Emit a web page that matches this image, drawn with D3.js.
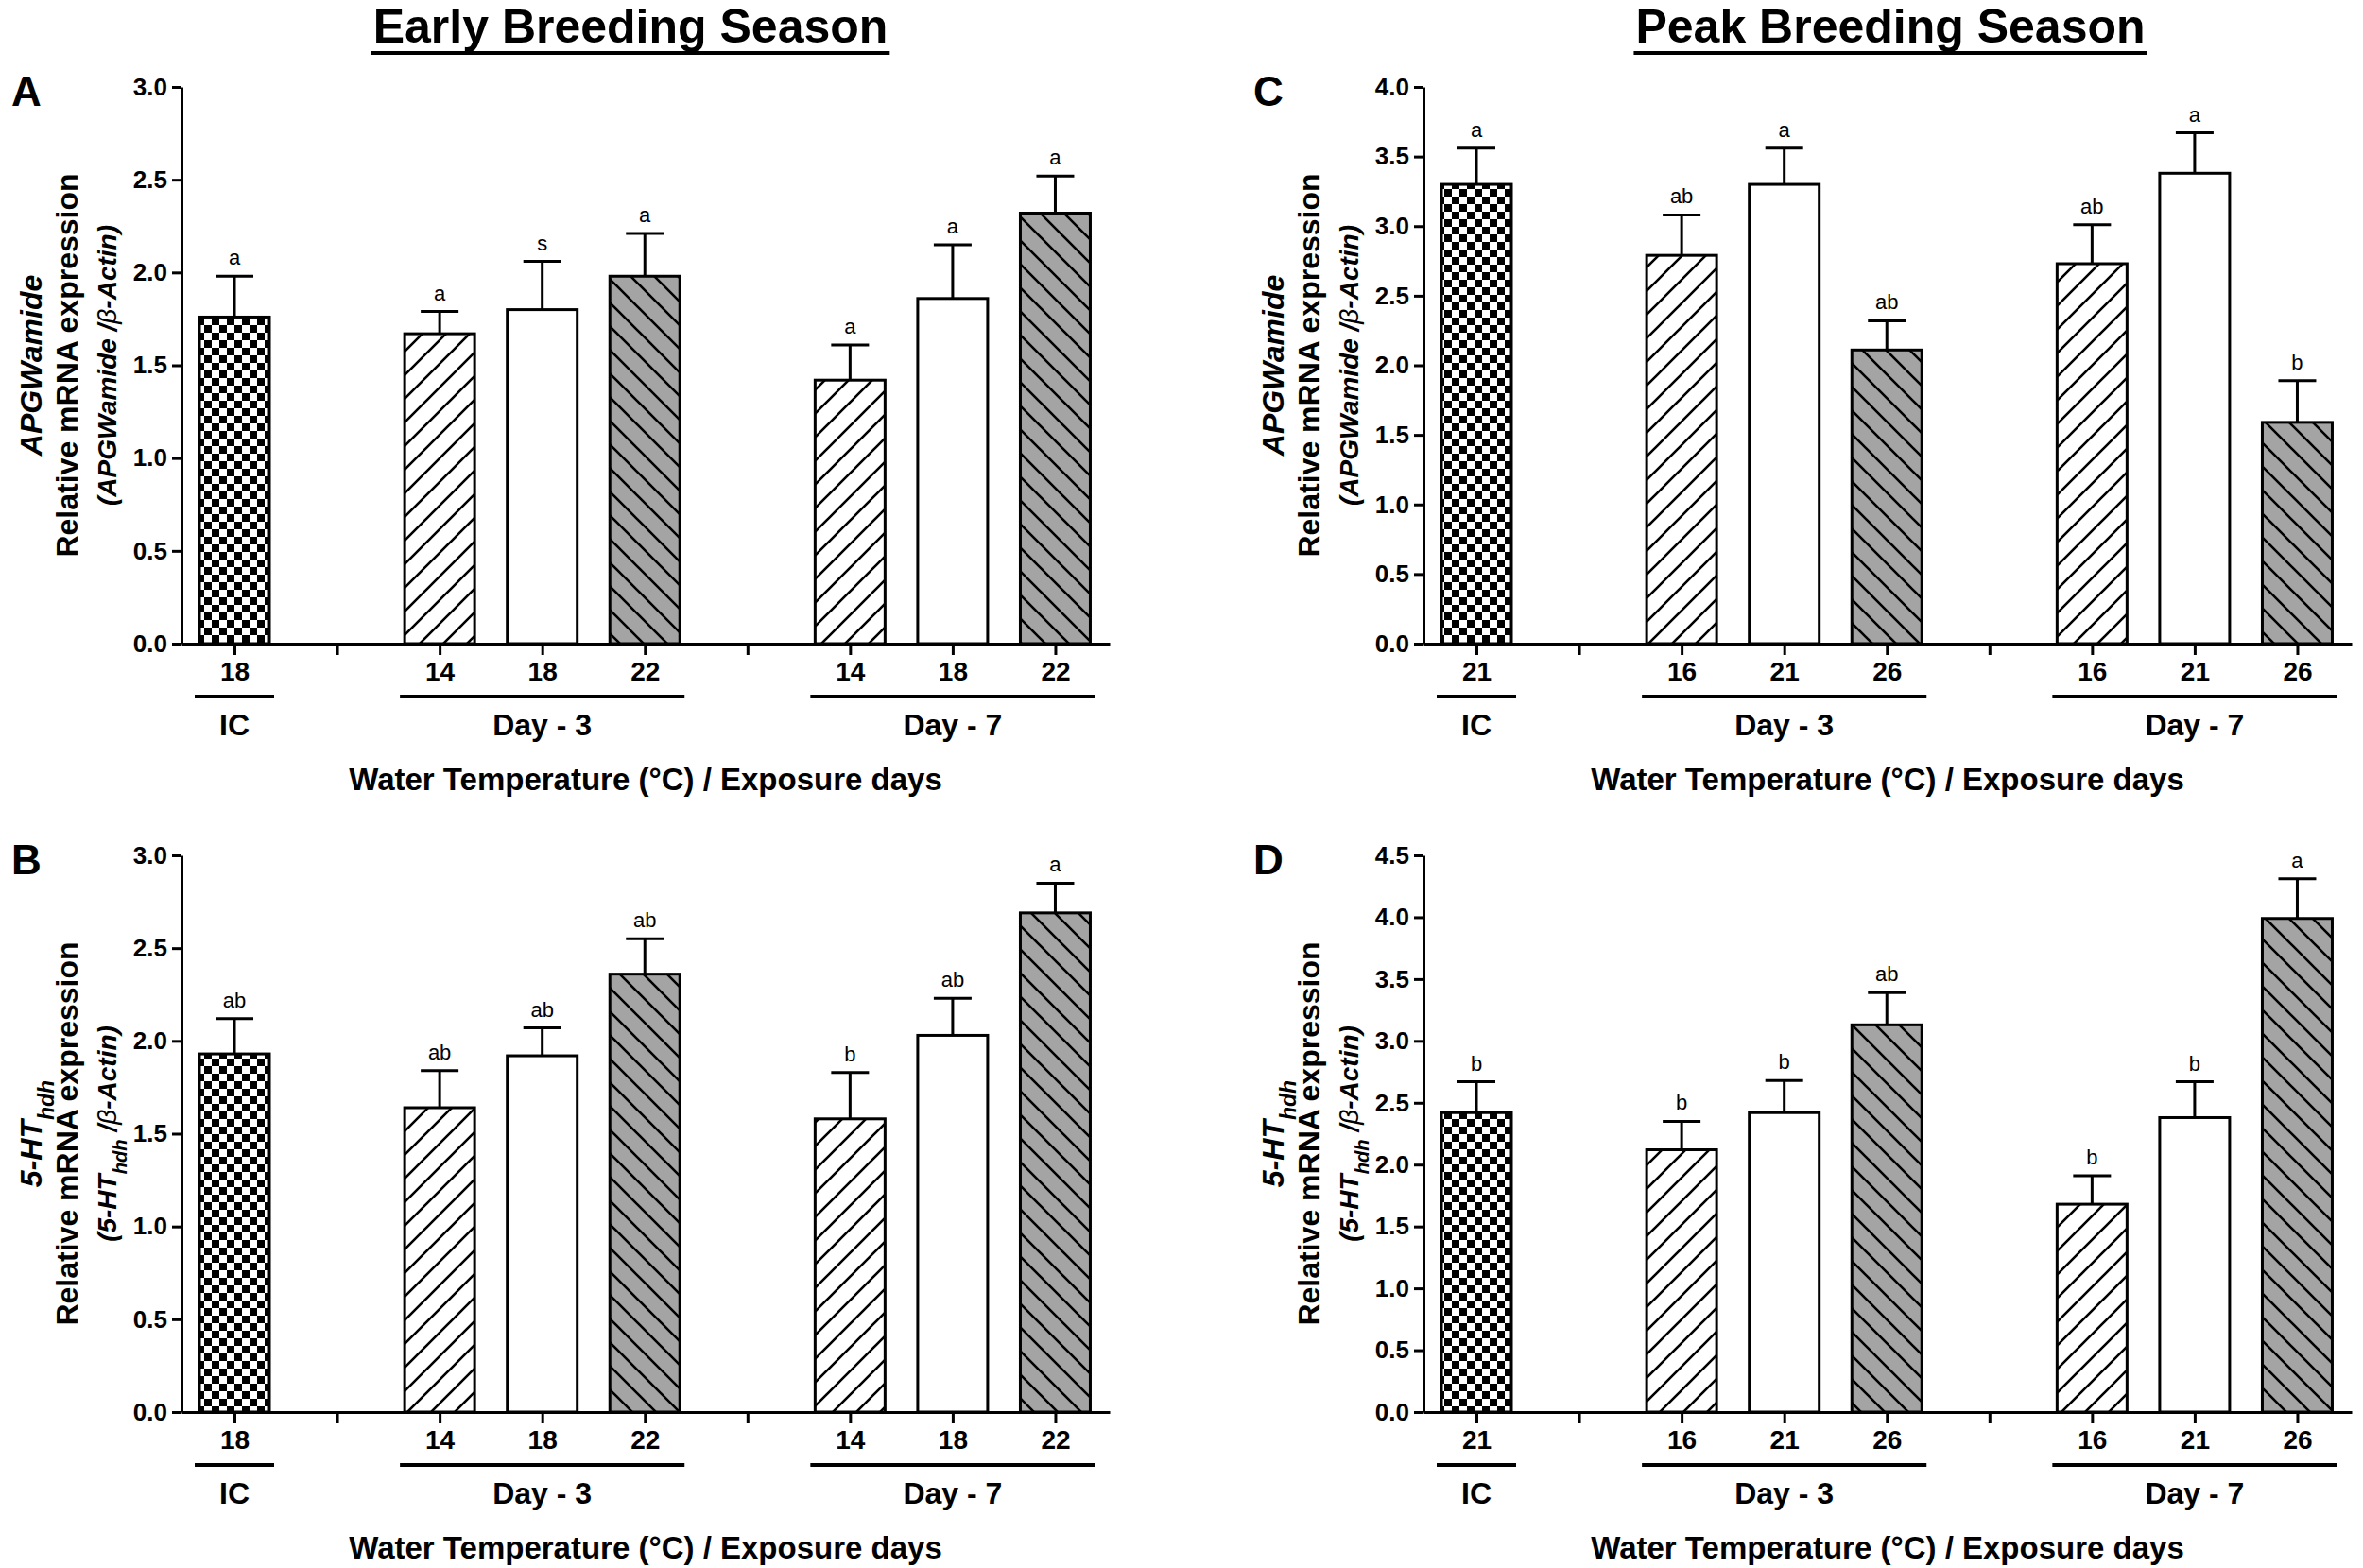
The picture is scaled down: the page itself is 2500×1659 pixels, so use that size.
<!DOCTYPE html>
<meta charset="utf-8">
<style>
body { margin: 0; background: #fff; }
svg text { font-family: "Liberation Sans", Arial, Helvetica, sans-serif; fill: #000; }
.axis path, .axis line { stroke: #000; stroke-width: 3px; fill: none; }
.axis text { font-size: 26px; font-weight: bold; font-family: "Liberation Sans", Arial, sans-serif; }
.xaxis text { font-size: 28px; }
.bar { stroke: #000; stroke-width: 3px; }
.err { stroke: #000; stroke-width: 3px; fill: none; }
.sig { font-size: 22px; }
.grp-line { stroke: #000; stroke-width: 4px; }
.grp-label { font-size: 32px; font-weight: bold; }
.x-title { font-size: 33px; font-weight: bold; }
.y-title { font-weight: bold; }
.panel-letter { font-size: 44px; font-weight: bold; }
.season { font-size: 50px; font-weight: bold; }
</style>
<body>
<script src="https://d3js.org/d3.v7.min.js"></script>
<script>

const width = 2500;
const height = 1659;

// bar slot positions on the category axis (1 and 5 are the empty gaps)
const slots = [0, 2, 3, 4, 6, 7, 8];
const fills = ["check", "hatchUp", "open", "hatchDown", "hatchUp", "open", "hatchDown"];
const groupNames = ["IC", "Day - 3", "Day - 7"];
const groupFirst = [0, 2, 6];
const groupLast = [0, 4, 8];

const earlyTemps = ["18", "14", "18", "22", "14", "18", "22"];
const peakTemps = ["21", "16", "21", "26", "16", "21", "26"];

// A: APGWamide, early season
const apgEarlyMean = [1.76, 1.67, 1.80, 1.98, 1.42, 1.86, 2.32];
const apgEarlySE = [0.22, 0.12, 0.26, 0.23, 0.19, 0.29, 0.20];
const apgEarlySig = ["a", "a", "s", "a", "a", "a", "a"];

// B: 5-HThdh, early season
const htEarlyMean = [1.93, 1.64, 1.92, 2.36, 1.58, 2.03, 2.69];
const htEarlySE = [0.19, 0.20, 0.15, 0.19, 0.25, 0.20, 0.16];
const htEarlySig = ["ab", "ab", "ab", "ab", "b", "ab", "a"];

// C: APGWamide, peak season
const apgPeakMean = [3.30, 2.79, 3.30, 2.11, 2.73, 3.38, 1.59];
const apgPeakSE = [0.26, 0.29, 0.26, 0.21, 0.28, 0.29, 0.30];
const apgPeakSig = ["a", "ab", "a", "ab", "ab", "a", "b"];

// D: 5-HThdh, peak season
const htPeakMean = [2.42, 2.12, 2.42, 3.13, 1.68, 2.38, 3.99];
const htPeakSE = [0.25, 0.23, 0.26, 0.26, 0.23, 0.29, 0.32];
const htPeakSig = ["b", "b", "b", "ab", "b", "b", "a"];

const yTicks30 = [0, 0.5, 1.0, 1.5, 2.0, 2.5, 3.0];
const yTicks40 = [0, 0.5, 1.0, 1.5, 2.0, 2.5, 3.0, 3.5, 4.0];
const yTicks45 = [0, 0.5, 1.0, 1.5, 2.0, 2.5, 3.0, 3.5, 4.0, 4.5];

const svg = d3.select("body").append("svg")
    .attr("width", width)
    .attr("height", height);

svg.append("rect").attr("width", width).attr("height", height).attr("fill", "#fff");

// fill patterns
const defs = svg.append("defs");

const check = defs.append("pattern")
    .attr("id", "check")
    .attr("patternUnits", "userSpaceOnUse")
    .attr("width", 16).attr("height", 16);
check.append("rect").attr("width", 16).attr("height", 16).attr("fill", "#fff");
check.append("rect").attr("width", 8).attr("height", 8).attr("fill", "#000");
check.append("rect").attr("x", 8).attr("y", 8).attr("width", 8).attr("height", 8).attr("fill", "#000");

const up = defs.append("pattern")
    .attr("id", "hatchUp")
    .attr("patternUnits", "userSpaceOnUse")
    .attr("width", 25).attr("height", 25);
up.append("rect").attr("width", 25).attr("height", 25).attr("fill", "#fff");
up.append("path")
    .attr("d", "M0,25L25,0M-5,5L5,-5M20,30L30,20")
    .attr("stroke", "#000").attr("stroke-width", 2.6);

const down = defs.append("pattern")
    .attr("id", "hatchDown")
    .attr("patternUnits", "userSpaceOnUse")
    .attr("width", 25).attr("height", 25);
down.append("rect").attr("width", 25).attr("height", 25).attr("fill", "#a4a4a4");
down.append("path")
    .attr("d", "M0,0L25,25M-5,20L5,30M20,-5L30,5")
    .attr("stroke", "#000").attr("stroke-width", 2.6);

const panels = [
  {letter: "A", gene: "APGWamide", temps: earlyTemps, mean: apgEarlyMean, se: apgEarlySE, sig: apgEarlySig, ticks: yTicks30, ax: 192, top: 92},
  {letter: "B", gene: "5-HT", temps: earlyTemps, mean: htEarlyMean, se: htEarlySE, sig: htEarlySig, ticks: yTicks30, ax: 192, top: 905},
  {letter: "C", gene: "APGWamide", temps: peakTemps, mean: apgPeakMean, se: apgPeakSE, sig: apgPeakSig, ticks: yTicks40, ax: 1506, top: 92},
  {letter: "D", gene: "5-HT", temps: peakTemps, mean: htPeakMean, se: htPeakSE, sig: htPeakSig, ticks: yTicks45, ax: 1506, top: 905}
];

// season headings
seasonTitle("Early Breeding Season", 667);
seasonTitle("Peak Breeding Season", 2000);

function seasonTitle(txt, cx) {
  const t = svg.append("text")
      .attr("class", "season")
      .attr("x", cx)
      .attr("y", 45)
      .attr("text-anchor", "middle")
      .text(txt);
  const w = t.node().getComputedTextLength();
  svg.append("line")
      .attr("x1", cx - w / 2 - 2).attr("x2", cx + w / 2 + 2)
      .attr("y1", 56).attr("y2", 56)
      .attr("stroke", "#000").attr("stroke-width", 4);
}

panels.forEach(drawPanel);

function drawPanel(p) {
  const g = svg.append("g");
  const bottom = p.top + 589;
  const axisLen = 982;
  const barW = 74;

  const x = d3.scaleLinear().domain([-0.516, 8.53]).range([p.ax, p.ax + axisLen]);
  const y = d3.scaleLinear().domain([0, p.ticks[p.ticks.length - 1]]).range([bottom, p.top]);

  const rows = slots.map((s, i) => ({
    slot: s, mean: p.mean[i], se: p.se[i], sig: p.sig[i], fill: fills[i]
  }));

  // bars
  g.selectAll(".bar")
      .data(rows)
    .enter().append("rect")
      .attr("class", "bar")
      .attr("x", d => x(d.slot) - barW / 2)
      .attr("width", barW)
      .attr("y", d => y(d.mean))
      .attr("height", d => y(0) - y(d.mean))
      .attr("fill", d => d.fill === "open" ? "#fff" : `url(#${d.fill})`);

  // upper error bars
  g.selectAll(".err")
      .data(rows)
    .enter().append("path")
      .attr("class", "err")
      .attr("d", d => {
        const cx = x(d.slot), yt = y(d.mean + d.se);
        return `M${cx},${y(d.mean)}V${yt}M${cx - 20},${yt}H${cx + 20}`;
      });

  g.selectAll(".sig")
      .data(rows)
    .enter().append("text")
      .attr("class", "sig")
      .attr("x", d => x(d.slot))
      .attr("y", d => y(d.mean + d.se) - 12)
      .attr("text-anchor", "middle")
      .text(d => d.sig);

  // y axis
  g.append("g")
      .attr("class", "axis")
      .attr("transform", `translate(${p.ax},0)`)
      .call(d3.axisLeft(y)
          .tickValues(p.ticks)
          .tickFormat(d3.format(".1f"))
          .tickSize(10)
          .tickSizeOuter(0)
          .tickPadding(5));

  // x axis
  g.append("g")
      .attr("class", "axis xaxis")
      .attr("transform", `translate(0,${bottom})`)
      .call(d3.axisBottom(x)
          .tickValues([0, 1, 2, 3, 4, 5, 6, 7, 8])
          .tickFormat(s => slots.indexOf(s) >= 0 ? p.temps[slots.indexOf(s)] : "")
          .tickSize(12)
          .tickSizeOuter(0)
          .tickPadding(7));

  // group underlines and names
  groupNames.forEach((name, i) => {
    const x0 = x(groupFirst[i]) - barW / 2 - 5;
    const x1 = x(groupLast[i]) + barW / 2 + 5;
    g.append("line")
        .attr("class", "grp-line")
        .attr("x1", x0).attr("x2", x1)
        .attr("y1", bottom + 56).attr("y2", bottom + 56);
    g.append("text")
        .attr("class", "grp-label")
        .attr("x", (x0 + x1) / 2)
        .attr("y", bottom + 97)
        .attr("text-anchor", "middle")
        .text(name);
  });

  g.append("text")
      .attr("class", "x-title")
      .attr("x", p.ax + axisLen / 2)
      .attr("y", bottom + 155)
      .attr("text-anchor", "middle")
      .text("Water Temperature (\u00B0C) / Exposure days");

  // y axis titles (three lines)
  const yc = (p.top + bottom) / 2;
  const t1 = g.append("text")
      .attr("class", "y-title")
      .attr("transform", `translate(${p.ax - 159},${yc}) rotate(-90)`)
      .attr("dy", "0.35em")
      .attr("text-anchor", "middle")
      .style("font-size", "32px")
      .style("font-style", "italic");
  geneName(t1, p.gene);

  g.append("text")
      .attr("class", "y-title")
      .attr("transform", `translate(${p.ax - 121},${yc}) rotate(-90)`)
      .attr("dy", "0.35em")
      .attr("text-anchor", "middle")
      .style("font-size", "32px")
      .text("Relative mRNA expression");

  const t3 = g.append("text")
      .attr("class", "y-title")
      .attr("transform", `translate(${p.ax - 79},${yc}) rotate(-90)`)
      .attr("dy", "0.35em")
      .attr("text-anchor", "middle")
      .style("font-size", "28px")
      .style("font-style", "italic");
  t3.append("tspan").text("(");
  geneName(t3, p.gene);
  t3.append("tspan").text(" /");
  t3.append("tspan").style("font-weight", "normal").text("\u03B2");
  t3.append("tspan").text("-Actin)");

  svg.append("text")
      .attr("class", "panel-letter")
      .attr("x", p.ax - 180)
      .attr("y", p.top + 20)
      .text(p.letter);
}

function geneName(sel, gene) {
  if (gene === "5-HT") {
    sel.append("tspan").text("5-HT");
    sel.append("tspan")
        .attr("baseline-shift", "sub")
        .style("font-size", "0.72em")
        .text("hdh");
  } else {
    sel.append("tspan").text(gene);
  }
}

</script>
</body>
